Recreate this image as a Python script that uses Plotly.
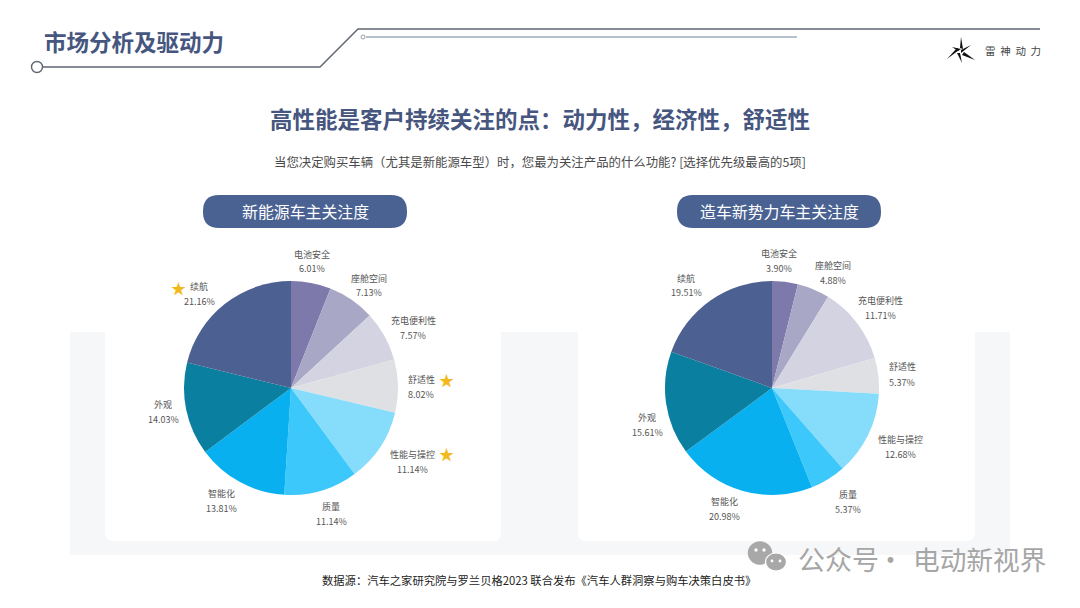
import plotly.graph_objects as go

W, H = 1080, 608
categories = ["电池安全", "座舱空间", "充电便利性", "舒适性", "性能与操控", "质量", "智能化", "外观", "续航"]
values_new_energy = [6.01, 7.13, 7.57, 8.02, 11.14, 11.14, 13.81, 14.03, 21.16]
values_startup = [3.90, 4.88, 11.71, 5.37, 12.68, 5.37, 20.98, 15.61, 19.51]
colors = ["#7d79ab", "#a8a8c6", "#d3d3e2", "#dfe0e4", "#85dcfb", "#3cc8fb", "#08b0ef", "#0a7f9f", "#4c6091"]
label_pos_new = [(312, 254), (369, 278), (413, 320), (421, 379), (412, 454), (331, 506), (221, 493), (163, 404), (199, 286)]
label_pos_startup = [(779, 253), (833, 265), (880, 300), (902, 367), (900, 439), (848, 494), (724, 501), (647, 417), (686, 278)]
CJK = "Noto Sans CJK SC"
NAVY = "#46567f"


def fx(x):
    return x / W


def fy(y):
    return 1 - y / H


def rect(x0, y0, x1, y1, color, radius=0):
    if radius == 0:
        return dict(type="rect", xref="paper", yref="paper", x0=fx(x0), x1=fx(x1), y0=fy(y1), y1=fy(y0),
                    fillcolor=color, line_width=0, layer="below")
    r = radius
    P = lambda x, y: f"{fx(x):.5f},{fy(y):.5f}"
    path = (f"M{P(x0+r,y0)} L{P(x1-r,y0)} Q{P(x1,y0)} {P(x1,y0+r)} L{P(x1,y1-r)} Q{P(x1,y1)} {P(x1-r,y1)} "
            f"L{P(x0+r,y1)} Q{P(x0,y1)} {P(x0,y1-r)} L{P(x0,y0+r)} Q{P(x0,y0)} {P(x0+r,y0)} Z")
    return dict(type="path", xref="paper", yref="paper", path=path, fillcolor=color, line_width=0, layer="below")


def poly(points, color=None, line=None, width=1.5):
    d = "M" + " L".join(f"{fx(x):.5f},{fy(y):.5f}" for x, y in points)
    s = dict(type="path", xref="paper", yref="paper", path=d, layer="above")
    if color:
        s.update(path=d + " Z", fillcolor=color, line_width=0)
    else:
        s.update(line=dict(color=line, width=width))
    return s


def circle(cx, cy, rx, ry=None, fill="white", line=None, width=1.5):
    ry = ry or rx
    return dict(type="circle", xref="paper", yref="paper", x0=fx(cx - rx), x1=fx(cx + rx), y0=fy(cy + ry), y1=fy(cy - ry),
                fillcolor=fill, line=dict(color=line or fill, width=width), layer="above")


def text(x, y, s, size, color, anchor="center", bold=False):
    return dict(xref="paper", yref="paper", x=fx(x), y=fy(y), text=f"<b>{s}</b>" if bold else s, showarrow=False,
                xanchor=anchor, yanchor="middle", font=dict(family=CJK, size=size, color=color))


def pie(values, cx, cy=388, r=107):
    return go.Pie(labels=categories, values=values, sort=False, direction="clockwise", rotation=0,
                  marker=dict(colors=colors, line=dict(width=0)), showlegend=False,
                  domain=dict(x=[fx(cx - r), fx(cx + r)], y=[fy(cy + r), fy(cy - r)]),
                  textinfo="none", automargin=False, hoverinfo="label+value")


def slice_labels(values, positions):
    out = []
    for name, value, (x, y) in zip(categories, values, positions):
        out.append(text(x, y, name, 9, "#555555"))
        out.append(text(x, y + 15, f"{value:.2f}%", 9, "#555555"))
    return out


fig = go.Figure([pie(values_new_energy, 291), pie(values_startup, 772)])

shapes = [
    rect(70, 332, 1010, 555, "#f6f7f9"),
    rect(105, 300, 501, 541, "#ffffff", 8),
    rect(578, 300, 975, 541, "#ffffff", 8),
    rect(203, 195, 407, 228, "#4a6292", 16),
    rect(677, 195, 881, 228, "#4a6292", 16),
    poly([(43, 67), (320, 67), (358, 29), (1040, 29)], line="#5f6670", width=1.4),
    poly([(366, 37), (797, 37)], line="#6f8099", width=1.2),
    circle(37, 67, 5.5, line="#5f6670", width=1.4),
    circle(363, 37, 2, line="#808890", width=0.8),
    # logo
    poly([(961, 37), (963, 49), (960, 48)], color="#111111"),
    poly([(975, 60), (962, 55), (964, 52)], color="#111111"),
    poly([(971, 45), (961, 53), (961, 50)], color="#111111"),
    poly([(947, 59), (957, 48), (959, 50)], color="#111111"),
    poly([(962, 63), (957, 53), (960, 53)], color="#111111"),
    poly([(952, 47), (961, 49), (958, 51)], color="#111111"),
    # watermark icon
    circle(760, 553, 12, 11.5, fill="#a8a8a8", line="#a8a8a8", width=0.5),
    circle(776, 562, 10.5, 9, fill="#a8a8a8", line="#ffffff", width=1.2),
    circle(756, 550, 1.7, fill="#ffffff", width=0),
    circle(764, 550, 1.7, fill="#ffffff", width=0),
    circle(772, 561, 1.4, fill="#ffffff", width=0),
    circle(780, 561, 1.4, fill="#ffffff", width=0),
]

annotations = [
    text(42, 41, "市场分析及驱动力", 22.5, NAVY, "left", True),
    text(540, 118, "高性能是客户持续关注的点：动力性，经济性，舒适性", 22.5, NAVY, bold=True),
    text(540, 162, "当您决定购买车辆（尤其是新能源车型）时，您最为关注产品的什么功能? [选择优先级最高的5项]", 12.4, "#4a4a4a"),
    text(305, 212, "新能源车主关注度", 15.9, "#ffffff"),
    text(779, 212, "造车新势力车主关注度", 15.9, "#ffffff"),
    text(1012.5, 51, "雷&nbsp;&nbsp;神&nbsp;&nbsp;动&nbsp;&nbsp;力", 10.5, "#444444"),
    text(539, 580, "数据源：汽车之家研究院与罗兰贝格2023 联合发布《汽车人群洞察与购车决策白皮书》", 11.3, "#222222"),
    text(838, 558, "公众号", 27, "#a6a6a6"),
    text(890, 558, "·", 27, "#a6a6a6"),
    text(979, 558, "电动新视界", 26.7, "#a6a6a6"),
    text(178, 287, "★", 15, "#f2b91c"),
    text(447, 379, "★", 15, "#f2b91c"),
    text(447, 453, "★", 15, "#f2b91c"),
] + slice_labels(values_new_energy, label_pos_new) + slice_labels(values_startup, label_pos_startup)

fig.update_layout(width=W, height=H, margin=dict(l=0, r=0, t=0, b=0), paper_bgcolor="white", plot_bgcolor="white",
                  shapes=shapes, annotations=annotations, showlegend=False)
fig.write_html("out.html", config=dict(displayModeBar=False),
               post_script="document.body.style.margin='0';document.body.style.overflow='hidden';")
